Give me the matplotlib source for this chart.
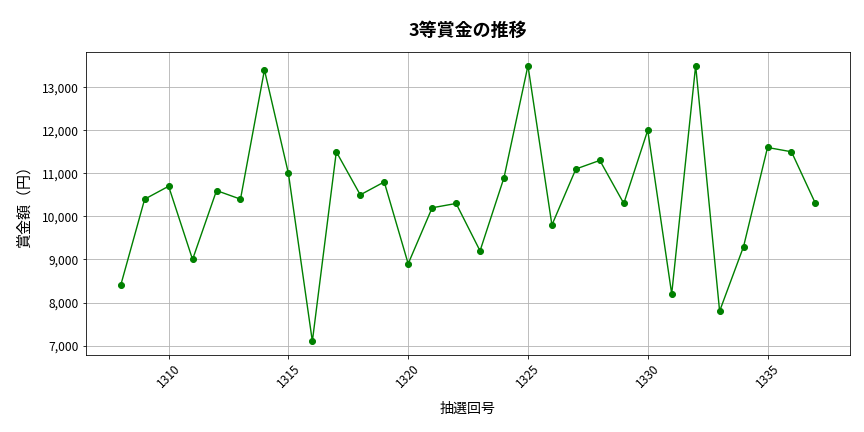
import matplotlib
matplotlib.use("Agg")
import matplotlib.pyplot as plt
from matplotlib.ticker import FuncFormatter

plt.rcParams['font.family'] = ['Noto Sans CJK JP', 'DejaVu Sans']

# 抽選回号 and 3等賞金 (円)
draws = list(range(1308, 1338))
prizes = [8400, 10400, 10700, 9000, 10600, 10400, 13400, 11000, 7100, 11500,
          10500, 10800, 8900, 10200, 10300, 9200, 10900, 13500, 9800, 11100,
          11300, 10300, 12000, 8200, 13500, 7800, 9300, 11600, 11500, 10300]

fig, ax = plt.subplots(figsize=(12, 6), dpi=72)
fig.subplots_adjust(left=0.0995, right=0.984, top=0.880, bottom=0.178)

ax.plot(draws, prizes, color="green", marker="o", markersize=6, linewidth=1.4)

ax.set_title("3等賞金の推移", fontsize=18, fontweight="bold", pad=16)
ax.set_xlabel("抽選回号", fontsize=14, labelpad=12)
ax.set_ylabel("賞金額（円）", fontsize=15, labelpad=10)

ax.yaxis.set_major_formatter(FuncFormatter(lambda v, p: f"{int(v):,}"))
ax.tick_params(axis="both", labelsize=12)
plt.setp(ax.get_xticklabels(), rotation=45)
ax.grid(True)

fig.savefig("out.png", dpi=72)
